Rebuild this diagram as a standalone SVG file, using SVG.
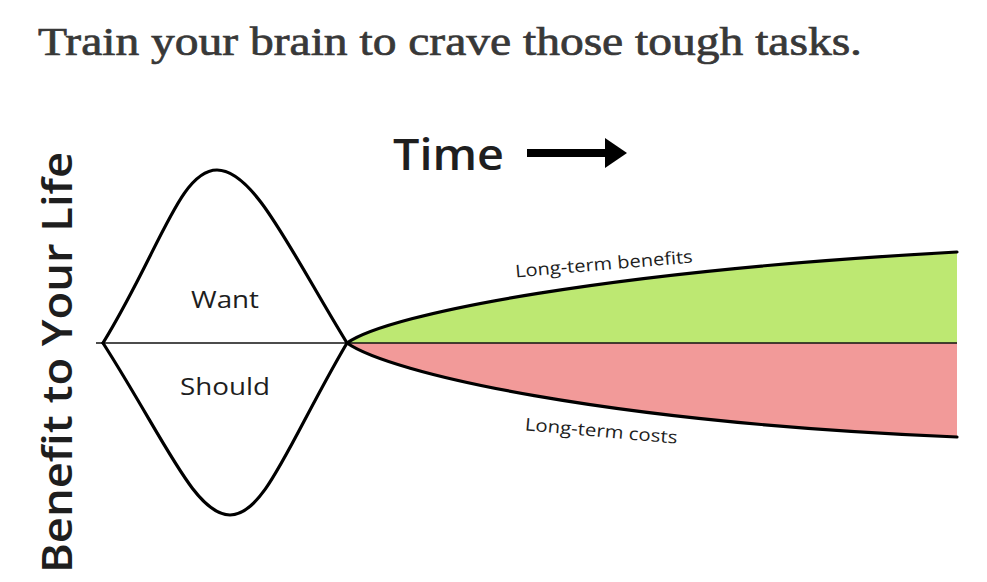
<svg xmlns="http://www.w3.org/2000/svg" width="987" height="582" viewBox="0 0 987 582">
<style>
.title{font-family:"Liberation Serif","Times New Roman",serif;font-size:40px;fill:#383838;stroke:#383838;stroke-width:0.7}
.sans{font-family:"Open Sans","Liberation Sans",Arial,sans-serif;fill:#1e1e1e}
.curve{fill:none;stroke:#000;stroke-width:3.2;stroke-linejoin:round;stroke-linecap:round}
</style>
<rect width="987" height="582" fill="#fff"/>
<text class="title" x="38" y="55" textLength="824" lengthAdjust="spacingAndGlyphs">Train your brain to crave those tough tasks.</text>
<g id="y-axis-label">
<text class="sans" transform="translate(72,573) rotate(-90)" font-size="41" font-weight="600" textLength="421" lengthAdjust="spacingAndGlyphs" fill="#000">Benefit to Your Life</text>
</g>
<g id="time-label">
<text class="sans" x="393" y="170" font-size="43" font-weight="600" textLength="111" lengthAdjust="spacingAndGlyphs" fill="#000">Time</text>
<rect x="527" y="149" width="80" height="8" fill="#000"/>
<polygon points="605,138 627,153 605,168" fill="#000"/>
</g>
<g id="regions">
<path id="benefits-area" d="M347,343 C390,313 610,271 957,252 L957,343 Z" fill="#bde872"/>
<path id="costs-area" d="M347,343 C390,373 600,422 957,437 L957,343 Z" fill="#f29a99"/>
</g>
<g id="connectors">
<line x1="96" y1="343" x2="957" y2="343" stroke="#111" stroke-width="1.3"/>
<path class="curve" d="M347,343 C390,313 610,271 957,252"/>
<path class="curve" d="M347,343 C390,373 600,422 957,437"/>
</g>
<g id="want">
<path class="curve" d="M103,343 C160,250 180,170 217,170 C254,170 290,250 347,343"/>
<text class="sans" x="225" y="308" font-size="23" text-anchor="middle" textLength="68" lengthAdjust="spacingAndGlyphs">Want</text>
</g>
<g id="should">
<path class="curve" d="M103,343 C165,440 195,515 230,515 C265,515 290,440 347,343"/>
<text class="sans" x="225" y="395" font-size="23" text-anchor="middle" textLength="90" lengthAdjust="spacingAndGlyphs">Should</text>
</g>
<g id="long-term-benefits">
<text class="sans" x="604" y="270" font-size="17.5" text-anchor="middle" textLength="178" lengthAdjust="spacingAndGlyphs" transform="rotate(-4.8 604 266)">Long-term benefits</text>
</g>
<g id="long-term-costs">
<text class="sans" x="601" y="437" font-size="17.5" text-anchor="middle" textLength="153" lengthAdjust="spacingAndGlyphs" transform="rotate(5 601 433)">Long-term costs</text>
</g>
</svg>
